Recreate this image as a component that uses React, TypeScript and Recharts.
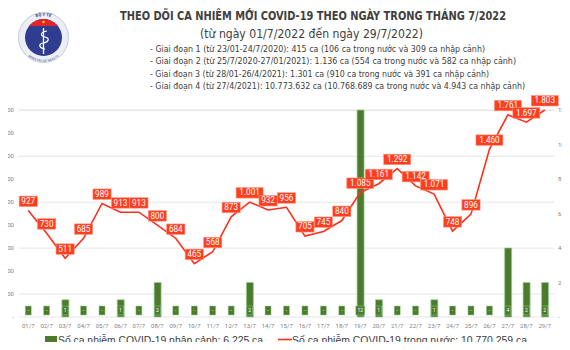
import React from 'react';
import {
  ComposedChart,
  Bar,
  Line,
  XAxis,
  YAxis,
  CartesianGrid,
  LabelList,
} from 'recharts';

const days = [
  '01/7', '02/7', '03/7', '04/7', '05/7', '06/7', '07/7', '08/7', '09/7', '10/7',
  '11/7', '12/7', '13/7', '14/7', '15/7', '16/7', '17/7', '18/7', '19/7', '20/7',
  '21/7', '22/7', '23/7', '24/7', '25/7', '26/7', '27/7', '28/7', '29/7',
];

const domestic = [
  927, 730, 511, 685, 989, 913, 913, 800, 684, 465,
  568, 873, 1001, 932, 956, 705, 745, 840, 1085, 1161,
  1292, 1142, 1071, 748, 896, 1460, 1761, 1697, 1803,
];

const imported = [
  0, 0, 1, 0, 0, 1, 0, 2, 0, 0,
  0, 0, 2, 0, 0, 0, 0, 0, 12, 1,
  0, 0, 1, 0, 0, 0, 4, 2, 2,
];

const leftTicks = [0, 200, 400, 600, 800, 1000, 1200, 1400, 1600, 1800];
const rightTicks = [0, 2, 4, 6, 8, 10, 12];

const title = 'THEO DÕI CA NHIỄM MỚI COVID-19 THEO NGÀY TRONG THÁNG 7/2022';
const subtitle = '(từ ngày 01/7/2022 đến ngày 29/7/2022)';
const phases = [
  '- Giai đoạn 1 (từ 23/01-24/7/2020): 415 ca (106 ca trong nước và 309 ca nhập cảnh)',
  '- Giai đoạn 2 (từ 25/7/2020-27/01/2021): 1.136 ca (554 ca trong nước và 582 ca nhập cảnh)',
  '- Giai đoạn 3 (từ 28/01-26/4/2021): 1.301 ca (910 ca trong nước và 391 ca nhập cảnh)',
  '- Giai đoạn 4 (từ 27/4/2021): 10.773.632 ca (10.768.689 ca trong nước và 4.943 ca nhập cảnh)',
];
const legendImported = 'Số ca nhiễm COVID-19 nhập cảnh: 6.225 ca';
const legendDomestic = 'Số ca nhiễm COVID-19 trong nước: 10.770.259 ca';

const data = days.map((day, i) => ({
  day,
  domestic: domestic[i],
  imported: imported[i],
}));

const fmt = (v: number) =>
  v === 0 ? '-' : String(v).replace(/\B(?=(\d{3})+(?!\d))/g, '.');

const FONT = '"Liberation Sans Narrow", "DejaVu Sans Condensed", Roboto, sans-serif';

const RED = '#ff2f1c';
const GREEN = '#4d7a2c';
const GREEN_EDGE = '#8fd28f';

// red callout above each point of the line
const LineLabel = (props: any) => {
  const { x, y, value } = props;
  const text = fmt(value);
  const w = text.length * 4.4 + 5;
  return (
    <g>
      <rect
        x={x - w / 2}
        y={y - 14.5}
        width={w}
        height={10.5}
        fill="#ff3d1f"
        stroke="#ff9a85"
        strokeWidth={0.6}
      />
      <text
        x={x}
        y={y - 6.6}
        textAnchor="middle"
        fontSize={8.2}
        fill="#fff"
        fontFamily="Roboto, sans-serif"
      >
        {text}
      </text>
    </g>
  );
};

// small green value box sitting on the zero line under each bar
const BaseBox = (props: any) => {
  const { cx, cy, payload, index } = props;
  const text = fmt(payload.imported);
  const w = text.length > 1 ? 9 : 6;
  return (
    <g key={`box-${index}`}>
      <rect
        x={cx - w / 2}
        y={cy - 11}
        width={w}
        height={9}
        fill={GREEN}
        stroke={GREEN_EDGE}
        strokeWidth={0.5}
      />
      <text
        x={cx}
        y={cy - 4.6}
        textAnchor="middle"
        fontSize={5}
        fill="#fff"
        fontFamily="Roboto, sans-serif"
      >
        {text}
      </text>
    </g>
  );
};

const Logo = () => (
  <g>
    <defs>
      <clipPath id="logoInner">
        <circle cx={43.5} cy={37.5} r={18.5} />
      </clipPath>
      <path id="logoTop" d="M 22 37.5 A 21.5 21.5 0 0 1 65 37.5" />
      <path id="logoBottom" d="M 23 39 A 20.5 20.5 0 0 0 64 39" />
    </defs>
    <circle cx={43.5} cy={37.5} r={25} fill="#eceef5" stroke="#c5c9d8" strokeWidth={1} />
    <text fontSize={4.2} fill="#2d3a8c" fontWeight={700} fontFamily="Roboto, sans-serif">
      <textPath href="#logoTop" startOffset="50%" textAnchor="middle">
        BỘ Y TẾ
      </textPath>
    </text>
    <text fontSize={3} fill="#2d3a8c" fontFamily="Roboto, sans-serif">
      <textPath href="#logoBottom" startOffset="50%" textAnchor="middle" dominantBaseline="hanging">
        MINISTRY OF HEALTH
      </textPath>
    </text>
    <circle cx={43.5} cy={37.5} r={18.5} fill="#2f3c8f" />
    <rect x={24} y={18} width={40} height={8} fill="#e1262b" clipPath="url(#logoInner)" />
    <circle cx={43.5} cy={22} r={1.2} fill="#ffd900" />
    <line x1={43.5} y1={28} x2={43.5} y2={54} stroke="#fff" strokeWidth={1.3} />
    <path
      d="M 47 31 C 40 32, 40 36, 45 37 C 50 38, 49 42, 43 43 C 38 44, 39 48, 45 49"
      fill="none"
      stroke="#fff"
      strokeWidth={1.2}
    />
  </g>
);

export default function App() {
  return (
    <div
      style={{
        position: 'relative',
        width: 570,
        height: 350,
        margin: -8,
        background: '#fff',
        overflow: 'hidden',
      }}
    >
      <ComposedChart
        width={570}
        height={350}
        data={data}
        margin={{ top: 110, right: 0, bottom: 0, left: 0 }}
        style={{ position: 'absolute', left: 0, top: 0 }}
      >
        <CartesianGrid yAxisId="left" vertical={false} stroke="#e5e5e5" strokeWidth={1} />
        <XAxis
          dataKey="day"
          interval={0}
          axisLine={false}
          tickLine={false}
          tickSize={0}
          tickMargin={7}
          height={33}
          tick={{ fontSize: 6, fill: '#7f7f7f', fontFamily: 'Roboto, sans-serif' }}
        />
        <YAxis
          yAxisId="left"
          domain={[0, 1800]}
          ticks={leftTicks}
          width={19}
          axisLine={false}
          tickLine={false}
          tickSize={0}
          tickMargin={5}
          tickFormatter={fmt}
          tick={{ fontSize: 6, fill: '#7f7f7f', fontFamily: 'Roboto, sans-serif' }}
        />
        <YAxis
          yAxisId="right"
          orientation="right"
          domain={[0, 12]}
          ticks={rightTicks}
          width={16}
          axisLine={false}
          tickLine={false}
          tickSize={0}
          tickMargin={4}
          tickFormatter={fmt}
          tick={{ fontSize: 6, fill: '#7f7f7f', fontFamily: 'Roboto, sans-serif' }}
        />
        <Bar
          yAxisId="right"
          dataKey="imported"
          barSize={7}
          fill={GREEN}
          stroke={GREEN_EDGE}
          strokeWidth={0.7}
          isAnimationActive={false}
        />
        {/* zero-line series only used to place the bar value boxes */}
        <Line
          yAxisId="right"
          dataKey={() => 0}
          stroke="none"
          dot={BaseBox}
          activeDot={false}
          legendType="none"
          isAnimationActive={false}
        />
        <Line
          yAxisId="left"
          dataKey="domestic"
          type="linear"
          stroke={RED}
          strokeWidth={1.6}
          dot={false}
          isAnimationActive={false}
        >
          <LabelList dataKey="domestic" content={LineLabel} />
        </Line>
      </ComposedChart>

      <svg
        width={570}
        height={350}
        style={{ position: 'absolute', left: 0, top: 0, pointerEvents: 'none' }}
      >
        <line x1={0} y1={0.5} x2={570} y2={0.5} stroke="#e2e2e2" />
        <Logo />
        <text
          x={120}
          y={19.5}
          fontSize={13}
          fontWeight={600}
          fill="#404040"
          fontFamily={FONT}
          textLength={386}
          lengthAdjust="spacingAndGlyphs"
        >
          {title}
        </text>
        <text
          x={200}
          y={37.5}
          fontSize={12.5}
          fill="#404040"
          fontFamily={FONT}
          textLength={223}
          lengthAdjust="spacingAndGlyphs"
        >
          {subtitle}
        </text>
        {phases.map((p, i) => (
          <text
            key={i}
            x={150}
            y={51.5 + i * 12.5}
            fontSize={9.5}
            fill="#404040"
            fontFamily={FONT}
            textLength={[335, 366, 339, 375][i]}
            lengthAdjust="spacingAndGlyphs"
          >
            {p}
          </text>
        ))}

        <rect x={45} y={336} width={12} height={7.5} fill={GREEN} />
        <text
          x={58}
          y={343.5}
          fontSize={11}
          fill="#404040"
          fontFamily="'Liberation Sans', Arial, sans-serif"
          textLength={205}
          lengthAdjust="spacingAndGlyphs"
        >
          {legendImported}
        </text>
        <line x1={278} y1={339.5} x2={292} y2={339.5} stroke={RED} strokeWidth={1.6} />
        <text
          x={292}
          y={343.5}
          fontSize={11}
          fill="#404040"
          fontFamily="'Liberation Sans', Arial, sans-serif"
          textLength={235}
          lengthAdjust="spacingAndGlyphs"
        >
          {legendDomestic}
        </text>
        <rect x={0} y={347} width={570} height={3} fill="#ececec" />
      </svg>
    </div>
  );
}
